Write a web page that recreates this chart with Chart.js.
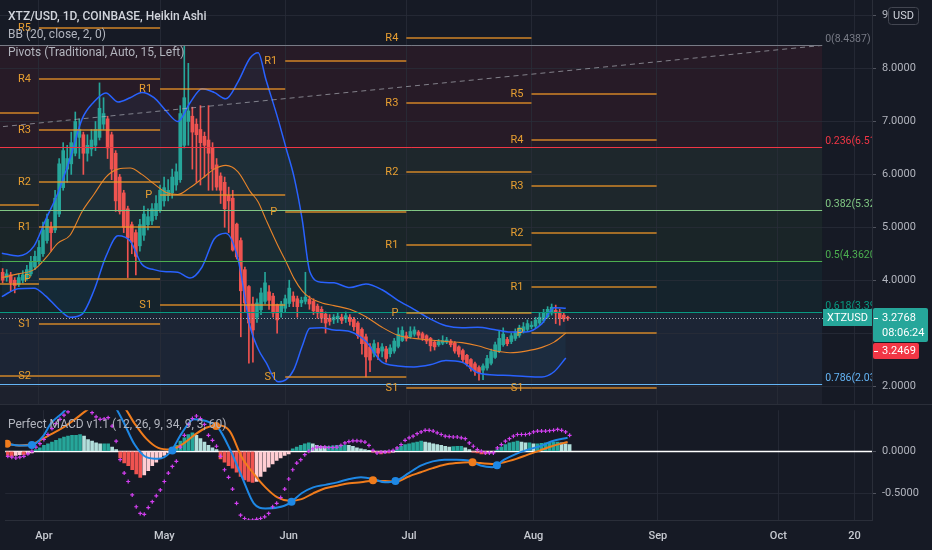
<!DOCTYPE html>
<html>
<head>
<meta charset="utf-8">
<title>XTZ/USD 1D</title>
<script src="https://cdn.jsdelivr.net/npm/chart.js@4.4.1/dist/chart.umd.min.js"></script>
<style>
  html, body { margin: 0; padding: 0; }
  body { width: 932px; height: 550px; overflow: hidden; position: relative; background: #161a25; font-family: Roboto, "Noto Sans", sans-serif; }
  canvas { position: absolute; left: 0; }
  #priceChart { top: 0; }
  #macdChart { top: 405px; }
  .legend { position: absolute; left: 8px; font-size: 12px; line-height: 14px; color: #b2b5be; white-space: nowrap; pointer-events: none; }
  .title { color: #d1d4dc; font-weight: 500; }
  .sep { position: absolute; left: 0; top: 404px; width: 932px; height: 1px; background: #2a2e39; }
</style>
</head>
<body>
<canvas id="priceChart" width="932" height="405"></canvas>
<canvas id="macdChart" width="932" height="145"></canvas>
<div class="sep"></div>
<div class="legend title" style="top:9px">XTZ/USD, 1D, COINBASE, Heikin Ashi</div>
<div class="legend" style="top:27px">BB (20, close, 2, 0)</div>
<div class="legend" style="top:45px">Pivots (Traditional, Auto, 15, Left)</div>
<div class="legend" style="top:417px">Perfect MACD v1.1 (12, 26, 9, 34, 9, 3, 60)</div>
<script>
// day numbers count from 1 Apr (= 0); first candle is 23 Mar, last is 10 Aug
var firstDay = -9;

// Heikin Ashi candles, one value per day
var haOpen = [
  4.15,4.05,4.10,4.00,3.92,4.00,4.05,4.12,4.25,
  4.35,4.50,4.75,5.00,4.95,5.25,5.75,6.10,6.20,6.40,6.70,6.75,6.40,6.48,6.55,6.70,6.95,7.05,6.75,6.40,5.95,5.65,5.35,5.05,4.90,4.65,4.85,5.05,5.12,5.22,
  5.33,5.50,5.60,5.65,5.80,5.90,6.55,7.00,7.10,6.95,6.85,6.72,6.65,6.50,6.18,5.97,5.85,5.60,5.55,5.06,4.75,4.20,3.88,3.55,3.30,3.44,3.60,3.78,3.70,3.54,
  3.40,3.47,3.56,3.70,3.65,3.57,3.60,3.64,3.60,3.51,3.45,3.36,3.28,3.25,3.27,3.30,3.27,3.30,3.26,3.19,3.07,2.93,2.74,2.62,2.71,2.66,2.70,2.61,2.66,2.75,
  2.86,2.95,2.93,2.98,3.02,2.99,2.95,2.90,2.83,2.78,2.81,2.83,2.85,2.81,2.74,2.67,2.58,2.50,2.42,2.35,2.30,2.34,2.43,2.54,2.66,2.78,2.88,2.84,2.90,2.96,3.03,
  3.07,3.12,3.13,3.19,3.24,3.31,3.38,3.43,3.40,3.34,3.30
];
var haHigh = [
  4.22,4.20,4.15,4.05,4.12,4.18,4.28,4.45,4.55,
  4.75,5.10,5.25,5.10,5.70,6.30,6.60,6.55,6.80,7.18,7.05,6.80,6.75,6.85,7.00,7.73,7.45,7.10,6.80,6.45,6.00,5.70,5.40,5.10,4.95,5.15,5.40,5.35,5.45,5.60,
  5.80,5.95,5.90,6.10,6.20,7.30,8.44,8.10,7.27,7.05,7.30,6.80,7.30,6.60,6.30,6.03,5.95,5.76,5.70,5.08,4.80,4.25,3.90,3.68,3.65,3.85,4.15,3.90,3.75,3.55,
  3.60,3.72,4.00,3.78,3.70,3.68,4.15,3.70,3.65,3.55,3.50,3.40,3.35,3.35,3.38,3.36,3.40,3.35,3.30,3.22,3.10,2.98,2.80,2.87,2.82,2.80,2.75,2.78,2.90,3.10,
  3.12,3.02,3.12,3.12,3.05,3.02,2.97,2.92,2.86,2.88,2.95,2.92,2.88,2.84,2.76,2.70,2.60,2.52,2.45,2.38,2.42,2.58,2.70,2.83,3.05,3.10,2.92,3.00,3.08,3.15,3.20,
  3.25,3.22,3.30,3.38,3.45,3.50,3.55,3.53,3.45,3.38,3.32
];
var haLow = [
  3.95,3.98,3.80,3.76,3.88,3.95,4.00,4.08,4.20,
  4.30,4.45,4.70,4.55,4.90,5.20,5.70,5.85,6.00,6.35,6.30,6.00,6.25,6.35,6.45,6.65,6.85,6.30,5.90,5.30,5.25,4.90,4.05,4.50,4.10,4.55,4.75,4.95,5.05,5.15,
  5.28,5.40,5.50,5.55,5.70,5.85,6.50,6.55,6.10,5.85,5.80,5.95,5.70,5.70,5.70,5.45,5.00,4.90,4.55,4.40,2.93,3.40,2.43,2.45,3.20,3.35,3.55,3.45,3.30,3.00,
  3.30,3.40,3.50,3.50,3.30,3.50,3.55,3.45,3.35,3.28,3.20,3.00,3.15,3.18,3.20,3.18,3.20,3.15,3.05,2.90,2.60,2.17,2.27,2.55,2.50,2.55,2.45,2.55,2.62,2.72,
  2.84,2.85,2.90,2.94,2.90,2.86,2.80,2.66,2.68,2.75,2.78,2.80,2.74,2.62,2.55,2.45,2.38,2.28,2.20,2.11,2.12,2.30,2.40,2.52,2.63,2.75,2.76,2.80,2.86,2.92,3.00,
  3.04,3.08,3.10,3.15,3.20,3.28,3.34,3.18,3.15,3.22,3.24
];
var haClose = [
  4.00,4.12,3.95,3.90,4.05,4.10,4.20,4.35,4.45,
  4.62,4.95,5.15,4.90,5.55,6.20,6.45,6.30,6.60,7.00,6.85,6.40,6.55,6.65,6.85,7.25,7.15,6.50,6.10,5.50,5.30,5.00,4.80,4.72,4.45,5.05,5.25,5.20,5.35,5.45,
  5.70,5.75,5.70,5.95,6.05,7.15,7.45,7.20,6.80,6.75,6.60,6.55,6.40,6.10,5.76,5.70,5.35,5.50,4.57,4.44,3.80,3.57,3.19,3.06,3.57,3.76,3.95,3.62,3.38,3.25,
  3.55,3.65,3.85,3.60,3.50,3.62,3.68,3.55,3.42,3.38,3.28,3.19,3.22,3.30,3.32,3.24,3.33,3.22,3.12,2.95,2.80,2.55,2.49,2.80,2.62,2.74,2.52,2.72,2.85,2.98,
  3.05,2.90,3.03,3.06,2.96,2.90,2.85,2.76,2.74,2.84,2.86,2.87,2.78,2.66,2.60,2.50,2.42,2.33,2.28,2.25,2.38,2.52,2.65,2.78,2.90,2.98,2.80,2.95,3.02,3.10,3.12,
  3.18,3.15,3.25,3.30,3.38,3.45,3.49,3.38,3.28,3.27,3.28
];

// Bollinger bands (20, 2), read at these days
var bbDays  = [-9.2,-5.2,-1.2,1.7,4.7,7.7,10.7,13.6,16.6,19.6,22.6,25.5,28.5,31.5,34.4,37.4,40.4,43.4,46.3,49.3,52.3,54.3,56.2,59.2,61.2,63.2,65.2,67.1,70.1,73.1,77.0,81.0,85.0,88.9,92.9,96.9,100.8,104.8,108.7,112.7,116.7,120.6,124.6,127.6,130.5];
var bbUpper = [4.51,4.46,4.65,5.15,5.65,6.30,7.05,7.37,7.54,7.37,7.45,7.55,7.45,7.20,7.00,7.35,7.62,7.55,7.43,7.75,8.20,8.30,7.80,7.05,6.50,5.95,5.15,4.16,3.96,3.95,3.86,3.93,3.82,3.62,3.45,3.27,3.14,3.10,3.11,3.07,3.02,3.02,3.18,3.48,3.47];
var bbBasis = [4.05,4.12,4.20,4.42,4.70,4.85,5.30,5.62,5.95,6.10,6.12,6.00,5.82,5.66,5.62,5.75,5.92,6.10,6.17,6.05,5.68,5.48,5.15,4.65,4.35,4.03,3.80,3.67,3.57,3.52,3.45,3.31,3.11,2.96,2.90,2.87,2.84,2.82,2.76,2.67,2.63,2.66,2.73,2.83,3.00];
var bbLower = [3.69,3.84,3.85,3.70,3.47,3.30,3.36,3.80,4.45,4.84,4.74,4.30,4.20,4.16,4.15,4.04,4.25,4.78,4.89,4.40,3.12,2.70,2.45,2.08,2.12,2.32,2.75,3.09,3.10,3.06,3.03,2.84,2.45,2.38,2.36,2.40,2.48,2.45,2.25,2.21,2.20,2.18,2.17,2.27,2.53];

// monthly pivots: one entry per month segment (Mar..Aug)
var pivotStart = [-31, 0, 30, 61, 91, 122];
var pivotEnd   = [0, 30, 61, 91, 122, 153];
var pivotR5 = [null, 8.77, null, null, null, 7.52];
var pivotR4 = [null, 7.80, null, null, 8.58, 6.65];
var pivotR3 = [null, 6.84, null, null, 7.35, 5.78];
var pivotR2 = [7.16, 5.86, null, null, 6.05, 4.89];
var pivotR1 = [5.42, 5.01, 7.62, 8.14, 4.66, 3.87];
var pivotP  = [3.93, 4.02, 5.61, 5.29, 3.38, 3.00];
var pivotS1 = [2.19, 3.17, 3.53, 2.17, 1.96, 1.96];
var pivotS2 = [null, 2.19, null, null, null, null];

// Fibonacci retracement
var fibRatios = [0, 0.236, 0.382, 0.5, 0.618, 0.786, 1];
var fibPrices = [8.4387, 6.5145, 5.3241, 4.3620, 3.3999, 2.0301, 0.2853];
var fibEndDay = 194;
var trendDays = [-20, 194];
var trendValues = [6.82, 8.4387];

var symbolName = 'XTZUSD';
var lastPrice = 3.2768;
var countdown = '08:06:24';
var otherPrice = 3.2469;

// Perfect MACD pane
var macdDays = [-9.2,-6.2,-3.2,-0.2,1.7,4.7,7.7,10.7,13.6,16.6,19.6,22.6,25.5,28.5,31.5,34.4,37.4,40.4,43.4,46.3,49.3,52.3,55.2,58.2,61.2,64.2,67.1,70.1,73.1,76.1,79.0,82.0,85.0,87.9,90.9,93.9,96.9,99.8,102.8,105.8,108.8,111.7,114.7,117.7,120.6,123.6,126.6,130.5];
var macdFast = [0.09,0.07,0.07,0.18,0.33,0.46,0.62,0.74,0.78,0.62,0.37,0.08,-0.07,-0.09,-0.01,0.22,0.38,0.36,0.28,0.03,-0.30,-0.62,-0.68,-0.67,-0.62,-0.50,-0.43,-0.40,-0.37,-0.33,-0.31,-0.33,-0.37,-0.35,-0.26,-0.17,-0.12,-0.10,-0.10,-0.11,-0.17,-0.19,-0.10,-0.03,0.02,0.06,0.12,0.16];
var macdSlow = [0.09,0.07,0.08,0.15,0.20,0.28,0.38,0.49,0.58,0.62,0.55,0.33,0.15,0.04,0.02,0.08,0.19,0.28,0.31,0.24,-0.07,-0.27,-0.43,-0.55,-0.59,-0.57,-0.50,-0.44,-0.41,-0.38,-0.37,-0.35,-0.355,-0.36,-0.30,-0.25,-0.20,-0.16,-0.14,-0.13,-0.14,-0.15,-0.13,-0.09,-0.04,0.01,0.06,0.11];
var histValues = [
  -0.05,-0.06,-0.05,-0.04,-0.04,-0.03,-0.02,0.02,0.04,
  0.07,0.09,0.11,0.13,0.15,0.17,0.18,0.19,0.19,0.20,0.18,0.14,0.12,0.10,0.09,0.09,0.09,0.05,0.02,-0.08,-0.14,-0.17,-0.22,-0.27,-0.31,-0.28,-0.23,-0.17,-0.13,-0.08,
  -0.05,-0.02,0.03,0.07,0.12,0.16,0.20,0.22,0.19,0.15,0.11,0.07,0.04,0.02,-0.09,-0.13,-0.17,-0.20,-0.25,-0.30,-0.34,-0.36,-0.37,-0.36,-0.30,-0.24,-0.19,-0.15,-0.11,-0.08,
  -0.05,-0.03,0.03,0.05,0.07,0.09,0.10,0.09,0.07,0.06,0.055,0.06,0.065,0.07,0.07,0.075,0.07,0.06,0.04,0.03,0.02,0.01,-0.01,-0.02,-0.03,-0.02,-0.02,-0.01,0.03,0.06,
  0.08,0.09,0.10,0.11,0.12,0.11,0.10,0.09,0.08,0.07,0.06,0.05,0.055,0.06,0.06,0.04,0.02,-0.01,-0.02,-0.03,-0.03,-0.02,-0.01,0.02,0.05,0.08,0.10,0.11,0.12,0.11,0.10,
  0.10,0.09,0.09,0.095,0.10,0.105,0.11,0.11,0.10,0.09,0.08
];
var crossValues = [
  -0.06,-0.07,-0.08,-0.07,-0.06,-0.03,0.00,0.05,0.09,
  0.14,0.20,0.27,0.33,0.38,0.43,0.47,0.52,0.56,0.58,0.56,0.52,0.46,0.41,0.38,0.385,0.40,0.30,0.12,-0.10,-0.26,-0.36,-0.52,-0.66,-0.74,-0.75,-0.67,-0.60,-0.53,-0.46,
  -0.36,-0.26,-0.18,-0.12,0.05,0.19,0.32,0.39,0.42,0.39,0.32,0.19,0.13,0.06,-0.06,-0.22,-0.31,-0.45,-0.62,-0.76,-0.80,-0.82,-0.82,-0.81,-0.80,-0.78,-0.74,-0.66,-0.62,-0.55,
  -0.45,-0.33,-0.22,-0.14,-0.10,-0.04,0.00,0.03,0.05,0.05,0.05,0.045,0.045,0.05,0.07,0.10,0.115,0.125,0.125,0.12,0.11,0.07,0.01,-0.02,-0.01,-0.01,0.00,0.01,0.04,0.08,
  0.13,0.16,0.18,0.21,0.23,0.25,0.25,0.24,0.22,0.20,0.18,0.175,0.17,0.17,0.16,0.15,0.10,0.06,0.02,0.00,-0.02,-0.02,-0.02,0.04,0.08,0.12,0.15,0.18,0.20,0.20,0.20,
  0.21,0.23,0.24,0.24,0.24,0.245,0.25,0.26,0.25,0.23,0.19
];
var bullCrossDays = [-3.0, 32.0, 61.7, 87.6, 112.9];
var bullCrossValues = [0.075, 0.01, -0.60, -0.355, -0.165];
var bearCrossDays = [-9.2, 42.9, 82.0, 106.8];
var bearCrossValues = [0.09, 0.30, -0.345, -0.13];

// axes
var monthDays = [0, 30, 61, 91, 122, 153, 183, 202];
var monthLabels = ['Apr', 'May', 'Jun', 'Jul', 'Aug', 'Sep', 'Oct', '20'];
var priceTicks = [2, 3, 4, 5, 6, 7, 8, 9];
var macdTicks = [0, -0.5];

var xMin = -9.65, xMax = 206.35;
var upColor = '#26a69a', downColor = '#ef5350';
var gridColor = 'rgba(42,46,57,0.75)';
var fibColors = ['#787b86', '#f23645', '#81c784', '#4caf50', '#089981', '#64b5f6', '#787b86'];
var pivotColor = 'rgba(240,152,40,0.85)';

Chart.defaults.font.family = 'Roboto, "Noto Sans", sans-serif';
Chart.defaults.font.size = 11;

function rgba(hex, a) {
  var n = parseInt(hex.slice(1), 16);
  return 'rgba(' + (n >> 16) + ',' + ((n >> 8) & 255) + ',' + (n & 255) + ',' + a + ')';
}
function points(days, values) {
  return days.map(function(d, i) { return { x: d, y: values[i] }; });
}
function candleColor(ctx) {
  var i = ctx.dataIndex;
  return haClose[i] >= haOpen[i] ? upColor : downColor;
}

function timeAxis(showLabels) {
  return {
    type: 'linear', min: xMin, max: xMax, offset: false,
    afterBuildTicks: function(s) { s.ticks = monthDays.map(function(v) { return { value: v }; }); },
    afterFit: function(s) { s.paddingLeft = 0; s.paddingRight = 0; if (showLabels) s.height = 30; },
    grid: { color: gridColor, drawTicks: false, offset: false },
    border: { display: showLabels, color: '#2a2e39' },
    ticks: {
      display: showLabels, autoSkip: false, maxRotation: 0, padding: 10,
      color: '#c7cad1', font: { size: 11, weight: '500' },
      callback: function(v) { return monthLabels[monthDays.indexOf(v)]; }
    }
  };
}
function valueAxis(ticks, min, max) {
  return {
    type: 'linear', position: 'right', min: min, max: max,
    afterBuildTicks: function(s) { s.ticks = ticks.map(function(v) { return { value: v }; }); },
    afterFit: function(s) { s.width = 60; s.paddingTop = 0; s.paddingBottom = 0; },
    grid: { color: gridColor, tickColor: '#50535e', tickLength: 4 },
    border: { color: '#2a2e39' },
    ticks: { padding: 6, color: '#b2b5be', callback: function(v) { return v.toFixed(4); } }
  };
}

var drawings = {
  id: 'drawings',
  beforeDraw: function(chart) {
    var ctx = chart.ctx, a = chart.chartArea, x = chart.scales.x, y = chart.scales.y;
    var xEnd = Math.min(x.getPixelForValue(fibEndDay), a.right);
    ctx.save();
    ctx.beginPath(); ctx.rect(a.left, a.top, a.width, a.height); ctx.clip();
    for (var i = 0; i < fibPrices.length - 1; i++) {
      var y0 = y.getPixelForValue(fibPrices[i]), y1 = y.getPixelForValue(fibPrices[i + 1]);
      ctx.fillStyle = rgba(fibColors[i + 1], 0.08);
      ctx.fillRect(a.left, y0, xEnd - a.left, y1 - y0);
    }
    ctx.restore();
  },
  afterDatasetsDraw: function(chart) {
    var ctx = chart.ctx, a = chart.chartArea, x = chart.scales.x, y = chart.scales.y;
    ctx.save();
    ctx.beginPath(); ctx.rect(a.left, a.top, a.width, a.height); ctx.clip();

    // fib levels
    var xEnd = x.getPixelForValue(fibEndDay);
    ctx.font = '10.5px Roboto';
    ctx.textAlign = 'left'; ctx.textBaseline = 'alphabetic';
    fibPrices.forEach(function(p, i) {
      var py = Math.round(y.getPixelForValue(p)) + 0.5;
      if (py > a.bottom) return;
      ctx.strokeStyle = fibColors[i]; ctx.lineWidth = 1;
      ctx.beginPath(); ctx.moveTo(a.left, py); ctx.lineTo(xEnd, py); ctx.stroke();
      ctx.fillStyle = fibColors[i];
      ctx.fillText(fibRatios[i] + '(' + p.toFixed(4) + ')', xEnd + 3, py - 4);
    });

    // pivots
    var levels = [['R5', pivotR5], ['R4', pivotR4], ['R3', pivotR3], ['R2', pivotR2], ['R1', pivotR1],
                  ['P', pivotP], ['S1', pivotS1], ['S2', pivotS2]];
    ctx.font = '11px Roboto';
    ctx.textAlign = 'right'; ctx.textBaseline = 'middle';
    levels.forEach(function(l) {
      l[1].forEach(function(v, i) {
        if (v === null) return;
        var x0 = x.getPixelForValue(pivotStart[i]), x1 = x.getPixelForValue(pivotEnd[i]);
        var py = Math.round(y.getPixelForValue(v));
        ctx.strokeStyle = pivotColor; ctx.lineWidth = 1.6;
        ctx.beginPath(); ctx.moveTo(x0, py); ctx.lineTo(x1, py); ctx.stroke();
        ctx.fillStyle = '#e89f32';
        ctx.fillText(l[0], x0 - 8, py);
      });
    });

    // last price line
    var lp = Math.round(y.getPixelForValue(lastPrice)) + 0.5;
    ctx.strokeStyle = '#a3a6af'; ctx.lineWidth = 1; ctx.setLineDash([1, 2]);
    ctx.beginPath(); ctx.moveTo(a.left, lp); ctx.lineTo(a.right, lp); ctx.stroke();
    ctx.restore();
  },
  afterDraw: function(chart) {
    var ctx = chart.ctx, a = chart.chartArea, y = chart.scales.y;
    var py = Math.round(y.getPixelForValue(lastPrice));
    ctx.save();
    ctx.font = '11px Roboto';
    ctx.textBaseline = 'middle';
    // symbol tag inside the pane
    ctx.fillStyle = upColor;
    ctx.fillRect(a.right - 49, py - 9, 49, 17);
    ctx.fillStyle = '#ffffff'; ctx.textAlign = 'center';
    ctx.fillText(symbolName, a.right - 24.5, py);
    // price + countdown on the axis
    ctx.fillStyle = upColor;
    ctx.beginPath(); ctx.roundRect(a.right + 1, py - 10, 55, 34, 2); ctx.fill();
    ctx.fillStyle = '#ffffff'; ctx.textAlign = 'left';
    ctx.fillText(lastPrice.toFixed(4), a.right + 10, py);
    ctx.fillText(countdown, a.right + 10, py + 15);
    ctx.fillRect(a.right + 2, py, 4, 1);
    // second price tag
    ctx.fillStyle = '#f23645';
    ctx.beginPath(); ctx.roundRect(a.right + 1, py + 25, 46, 16, 2); ctx.fill();
    ctx.fillStyle = '#ffffff';
    ctx.fillText(otherPrice.toFixed(4), a.right + 10, py + 33);
    ctx.fillRect(a.right + 2, py + 33, 4, 1);
    // currency box
    ctx.fillStyle = '#161a25'; ctx.strokeStyle = '#434651'; ctx.lineWidth = 1;
    ctx.beginPath(); ctx.roundRect(888.5, 7.5, 30, 17, 3); ctx.fill(); ctx.stroke();
    ctx.fillStyle = '#d1d4dc'; ctx.textAlign = 'center';
    ctx.fillText('USD', 903.5, 16.5);
    ctx.restore();
  }
};

new Chart(document.getElementById('priceChart'), {
  type: 'bar',
  data: {
    datasets: [
      { type: 'line', data: points(bbDays, bbUpper), borderColor: '#2962ff', borderWidth: 1.5,
        pointRadius: 0, cubicInterpolationMode: 'monotone', fill: '+2',
        backgroundColor: 'rgba(33,150,243,0.06)', order: 1 },
      { type: 'line', data: points(bbDays, bbBasis), borderColor: '#e8842a', borderWidth: 1.1,
        pointRadius: 0, cubicInterpolationMode: 'monotone', order: 1 },
      { type: 'line', data: points(bbDays, bbLower), borderColor: '#2962ff', borderWidth: 1.5,
        pointRadius: 0, cubicInterpolationMode: 'monotone', order: 1 },
      { type: 'line', data: points(trendDays, trendValues), borderColor: 'rgba(178,181,190,0.65)',
        borderWidth: 1, borderDash: [5, 4], pointRadius: 0, order: 0 },
      { data: haClose.map(function(c, i) { return { x: firstDay + i, y: [haLow[i], haHigh[i]] }; }),
        barThickness: 1, grouped: false, backgroundColor: candleColor, order: 3 },
      { data: haClose.map(function(c, i) { return { x: firstDay + i, y: [haOpen[i], c] }; }),
        barThickness: 3, minBarLength: 1, grouped: false, backgroundColor: candleColor, order: 2 }
    ]
  },
  options: {
    responsive: false, animation: false, events: [],
    layout: { padding: 0 },
    plugins: { legend: { display: false }, tooltip: { enabled: false }, filler: { drawTime: 'beforeDatasetsDraw' } },
    scales: { x: timeAxis(false), y: valueAxis(priceTicks, 1.641, 9.297) }
  },
  plugins: [drawings]
});

var zeroLine = {
  id: 'zeroLine',
  beforeDatasetsDraw: function(chart) {
    var ctx = chart.ctx, a = chart.chartArea, y = chart.scales.y;
    var py = Math.round(y.getPixelForValue(0)) + 0.5;
    ctx.save();
    ctx.strokeStyle = '#ffffff'; ctx.lineWidth = 1.5;
    ctx.beginPath(); ctx.moveTo(a.left, py); ctx.lineTo(a.right, py); ctx.stroke();
    ctx.restore();
  }
};

new Chart(document.getElementById('macdChart'), {
  type: 'bar',
  data: {
    datasets: [
      { data: histValues.map(function(v, i) { return { x: firstDay + i, y: v }; }),
        barThickness: 3, grouped: false, order: 4,
        backgroundColor: function(ctx) {
          var i = ctx.dataIndex, v = histValues[i], p = i > 0 ? histValues[i - 1] : v;
          if (v >= 0) return v >= p ? '#26a69a' : '#b2dfdb';
          return v <= p ? '#ef5350' : '#ffcdd2';
        } },
      { type: 'line', data: points(macdDays, macdSlow), borderColor: '#f07c1c', borderWidth: 2,
        pointRadius: 0, cubicInterpolationMode: 'monotone', order: 3 },
      { type: 'line', data: points(macdDays, macdFast), borderColor: '#1e88e5', borderWidth: 2,
        pointRadius: 0, cubicInterpolationMode: 'monotone', order: 2 },
      { type: 'line', data: crossValues.map(function(v, i) { return { x: firstDay + i, y: v }; }),
        showLine: false, pointStyle: 'cross', pointRadius: 2, pointBorderWidth: 1.2,
        pointBorderColor: '#d23ff0', order: 1 },
      { type: 'line', data: points(bullCrossDays, bullCrossValues), showLine: false,
        pointRadius: 4, pointBackgroundColor: '#1e88e5', pointBorderWidth: 0, order: 0 },
      { type: 'line', data: points(bearCrossDays, bearCrossValues), showLine: false,
        pointRadius: 4, pointBackgroundColor: '#f07c1c', pointBorderWidth: 0, order: 0 }
    ]
  },
  options: {
    responsive: false, animation: false, events: [],
    layout: { padding: 0 },
    plugins: { legend: { display: false }, tooltip: { enabled: false } },
    scales: { x: timeAxis(true), y: valueAxis(macdTicks, -0.818, 0.489) }
  },
  plugins: [zeroLine]
});
</script>
</body>
</html>
